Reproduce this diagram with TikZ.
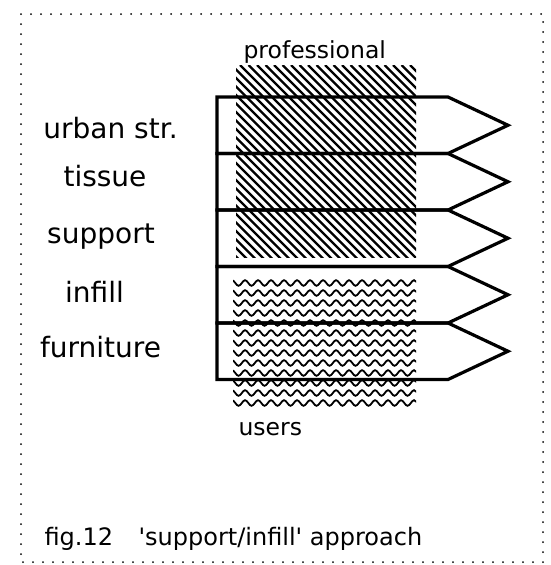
\documentclass[tikz,border=0pt]{standalone}
\usepackage{fontspec}
\setmainfont{DejaVu Sans}
\usetikzlibrary{decorations.pathmorphing}

\tikzset{
    band/.style={line width=3.2pt, line join=miter},
    label/.style={font=\fontsize{28}{32}\selectfont, anchor=base},
    group/.style={font=\fontsize{23.5}{28}\selectfont, anchor=base west},
    caption/.style={font=\fontsize{24}{28}\selectfont, anchor=base west},
    wave/.style={line width=1.8pt, decorate,
        decoration={snake, segment length=13pt, amplitude=2.8pt}}
}

\begin{document}
\begin{tikzpicture}[x=1pt,y=-1pt]
    \useasboundingbox (0,0) rectangle (551,565);

    % Rahmen
    \draw[line width=2pt, line cap=round, dash pattern=on 0pt off 10pt]
        (21,14) rectangle (543,562);

    % Schraffur (professional)
    \begin{scope}
        \clip (236,65) rectangle (416,257);
        \foreach \i in {-200,-191.5,...,190}
            \draw[line width=2.2pt] (236+\i,65) -- ++(200,200);
    \end{scope}

    % Wellen (users)
    \begin{scope}
        \clip (233,278) rectangle (416,409);
        \foreach \y in {283,293,...,406}
            \draw[wave] (228,\y) -- (422,\y);
    \end{scope}

    % Ebenen
    \foreach \t in {97,153.5,210,266.5,323}
        \draw[band] (217,\t) -- (448,\t) -- (508,\t+28.25)
            -- (448,\t+56.5) -- (217,\t+56.5) -- cycle;

    % Beschriftung
    \node[label] (urban) at (110.5,138) {urban str.};
    \node[label] (tissue) at (105,186) {tissue};
    \node[label] (support) at (101,243) {support};
    \node[label] (infill) at (94.5,302) {infill};
    \node[label] (furniture) at (100.5,357) {furniture};

    \node[group] (prof) at (240,58) {professional};
    \node[group] (users) at (235,435) {users};

    \node[caption] (fig) at (41,545) {fig.12};
    \node[caption] (title) at (135,545)
        {\textquotesingle support/infill\textquotesingle\ approach};
\end{tikzpicture}
\end{document}
